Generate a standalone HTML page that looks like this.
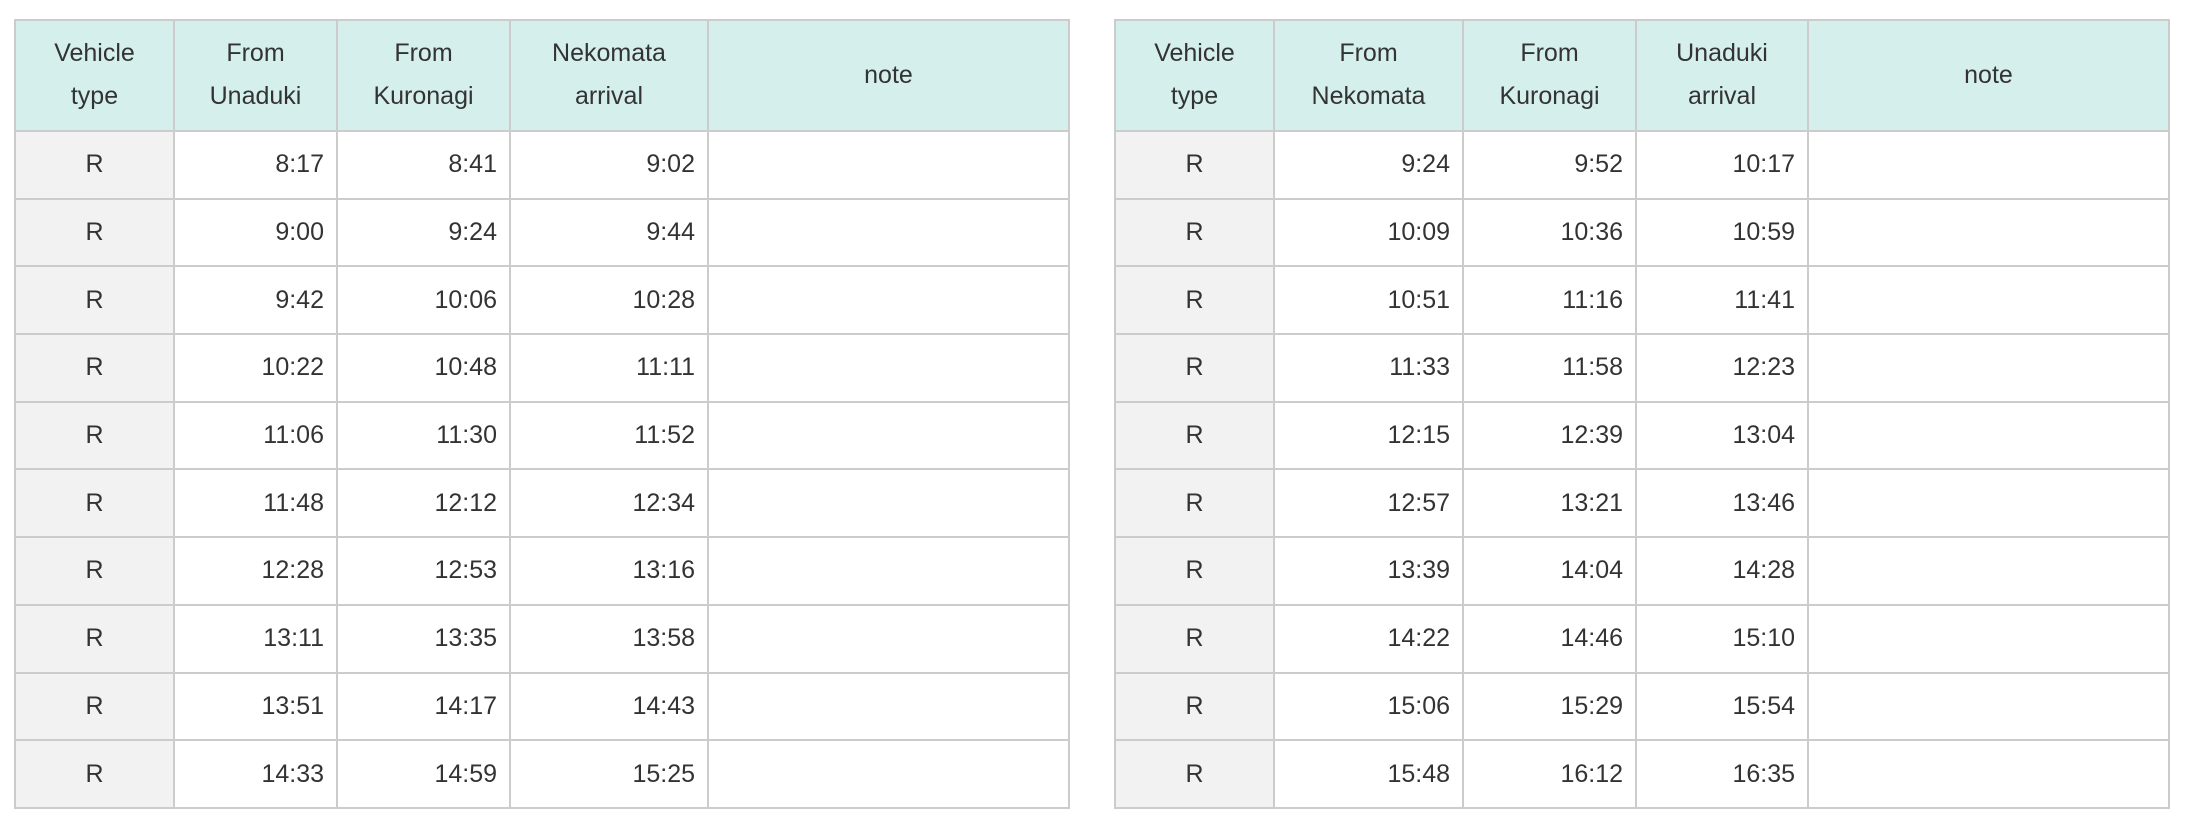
<!DOCTYPE html>
<html><head><meta charset="utf-8"><style>
body{margin:0;width:2186px;height:826px;background:#fff;position:relative;overflow:hidden;font-family:"Liberation Sans",sans-serif;color:#333}
table{position:absolute;top:19px;border-collapse:collapse;table-layout:fixed;width:1054px;height:790px}
td,th{border:2px solid #ccc;padding:0 12px;font-size:25px;font-weight:normal}
th{background:#d5efec;height:106px;line-height:43px;text-align:center}
td{height:64px;text-align:right}
td:first-child{background:#f2f2f2;text-align:center}
</style></head><body>
<table style="left:14px">
<colgroup><col style="width:159px"><col style="width:163px"><col style="width:173px"><col style="width:198px"><col style="width:361px"></colgroup>
<tr><th>Vehicle<br>type</th><th>From<br>Unaduki</th><th>From<br>Kuronagi</th><th>Nekomata<br>arrival</th><th>note</th></tr>
<tr><td>R</td><td>8:17</td><td>8:41</td><td>9:02</td><td></td></tr>
<tr><td>R</td><td>9:00</td><td>9:24</td><td>9:44</td><td></td></tr>
<tr><td>R</td><td>9:42</td><td>10:06</td><td>10:28</td><td></td></tr>
<tr><td>R</td><td>10:22</td><td>10:48</td><td>11:11</td><td></td></tr>
<tr><td>R</td><td>11:06</td><td>11:30</td><td>11:52</td><td></td></tr>
<tr><td>R</td><td>11:48</td><td>12:12</td><td>12:34</td><td></td></tr>
<tr><td>R</td><td>12:28</td><td>12:53</td><td>13:16</td><td></td></tr>
<tr><td>R</td><td>13:11</td><td>13:35</td><td>13:58</td><td></td></tr>
<tr><td>R</td><td>13:51</td><td>14:17</td><td>14:43</td><td></td></tr>
<tr><td>R</td><td>14:33</td><td>14:59</td><td>15:25</td><td></td></tr>
</table>
<table style="left:1114px">
<colgroup><col style="width:159px"><col style="width:189px"><col style="width:173px"><col style="width:172px"><col style="width:361px"></colgroup>
<tr><th>Vehicle<br>type</th><th>From<br>Nekomata</th><th>From<br>Kuronagi</th><th>Unaduki<br>arrival</th><th>note</th></tr>
<tr><td>R</td><td>9:24</td><td>9:52</td><td>10:17</td><td></td></tr>
<tr><td>R</td><td>10:09</td><td>10:36</td><td>10:59</td><td></td></tr>
<tr><td>R</td><td>10:51</td><td>11:16</td><td>11:41</td><td></td></tr>
<tr><td>R</td><td>11:33</td><td>11:58</td><td>12:23</td><td></td></tr>
<tr><td>R</td><td>12:15</td><td>12:39</td><td>13:04</td><td></td></tr>
<tr><td>R</td><td>12:57</td><td>13:21</td><td>13:46</td><td></td></tr>
<tr><td>R</td><td>13:39</td><td>14:04</td><td>14:28</td><td></td></tr>
<tr><td>R</td><td>14:22</td><td>14:46</td><td>15:10</td><td></td></tr>
<tr><td>R</td><td>15:06</td><td>15:29</td><td>15:54</td><td></td></tr>
<tr><td>R</td><td>15:48</td><td>16:12</td><td>16:35</td><td></td></tr>
</table>
</body></html>
